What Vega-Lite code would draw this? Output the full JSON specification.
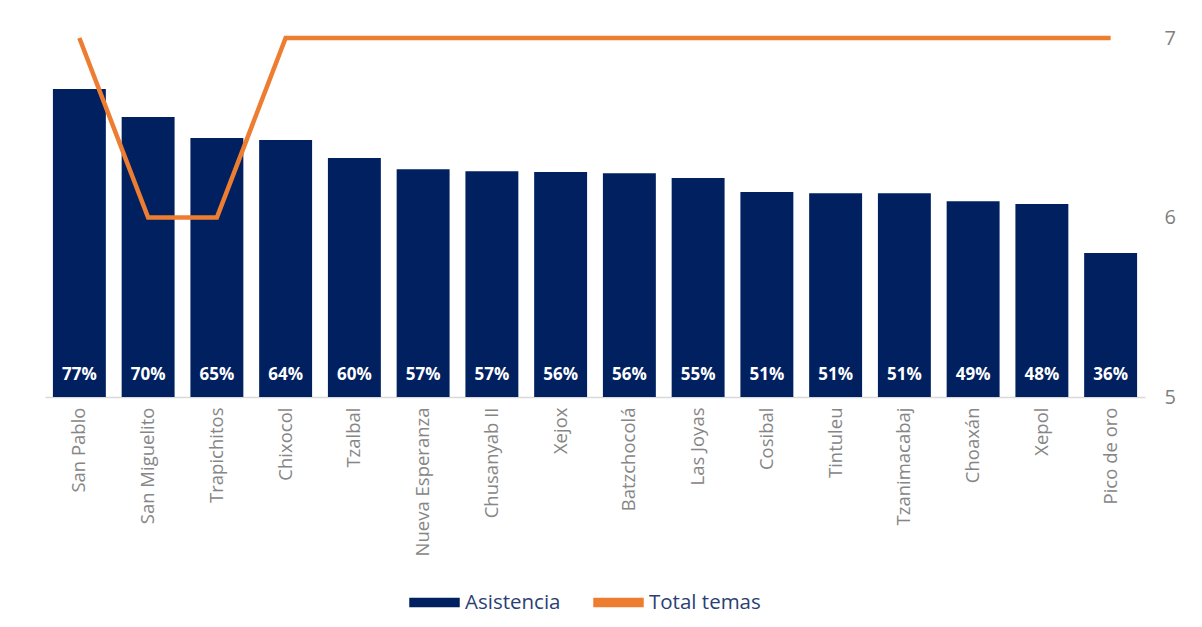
{
  "$schema": "https://vega.github.io/schema/vega-lite/v6.json",
  "width": 1100,
  "height": 359,
  "autosize": {"type": "none"},
  "padding": {"left": 45, "top": 38, "right": 57, "bottom": 230},
  "background": "white",
  "config": {"view": {"stroke": null}, "font": "Open Sans"},
  "data": {
    "values": [
      {"lugar": "San Pablo", "asistencia": 0.772, "temas": 7},
      {"lugar": "San Miguelito", "asistencia": 0.702, "temas": 6},
      {"lugar": "Trapichitos", "asistencia": 0.649, "temas": 6},
      {"lugar": "Chixocol", "asistencia": 0.644, "temas": 7},
      {"lugar": "Tzalbal", "asistencia": 0.599, "temas": 7},
      {"lugar": "Nueva Esperanza", "asistencia": 0.571, "temas": 7},
      {"lugar": "Chusanyab II", "asistencia": 0.566, "temas": 7},
      {"lugar": "Xejox", "asistencia": 0.564, "temas": 7},
      {"lugar": "Batzchocolá", "asistencia": 0.561, "temas": 7},
      {"lugar": "Las Joyas", "asistencia": 0.549, "temas": 7},
      {"lugar": "Cosibal", "asistencia": 0.514, "temas": 7},
      {"lugar": "Tintuleu", "asistencia": 0.511, "temas": 7},
      {"lugar": "Tzanimacabaj", "asistencia": 0.511, "temas": 7},
      {"lugar": "Choaxán", "asistencia": 0.491, "temas": 7},
      {"lugar": "Xepol", "asistencia": 0.484, "temas": 7},
      {"lugar": "Pico de oro", "asistencia": 0.361, "temas": 7}
    ]
  },
  "encoding": {
    "x": {
      "field": "lugar",
      "type": "nominal",
      "sort": null,
      "scale": {"paddingInner": 0.23, "paddingOuter": 0.115},
      "axis": {
        "title": null,
        "labelAngle": 270,
        "labelAlign": "right",
        "labelBaseline": "middle",
        "labelPadding": 10,
        "labelFontSize": 18.5,
        "labelColor": "#868686",
        "labelLimit": 0,
        "ticks": false,
        "domainColor": "#d9d9d9",
        "domainWidth": 1.5
      }
    }
  },
  "layer": [
    {
      "layer": [
        {
          "mark": {"type": "bar", "color": "#002060"},
          "encoding": {
            "y": {"field": "asistencia", "type": "quantitative", "scale": {"domain": [0, 0.9]}, "axis": null},
            "color": {
              "datum": "Asistencia",
              "scale": {"domain": ["Asistencia", "Total temas"], "range": ["#002060", "#ED7D31"]},
              "legend": {
                "title": null,
                "orient": "none",
                "legendX": 364,
                "legendY": 539,
                "direction": "horizontal",
                "symbolType": "M-1,-0.16L1,-0.16L1,0.16L-1,0.16Z",
                "symbolSize": 2400,
                "labelFontSize": 20.5,
                "labelColor": "#2b3f73",
                "labelOffset": 5,
                "columnPadding": 30,
                "encode": {
                  "symbols": {"update": {"fill": {"scale": "color", "field": "value"}, "stroke": {"value": "transparent"}, "opacity": {"value": 1}}}
                }
              }
            }
          }
        },
        {
          "mark": {"type": "text", "color": "white", "fontWeight": "bold", "fontSize": 17, "baseline": "alphabetic", "dy": -17},
          "encoding": {
            "y": {"datum": 0, "type": "quantitative"},
            "text": {"field": "asistencia", "type": "quantitative", "format": ".0%"}
          }
        }
      ]
    },
    {
      "mark": {"type": "line", "color": "#ED7D31", "strokeWidth": 4.5, "strokeJoin": "miter"},
      "encoding": {
        "y": {
          "field": "temas",
          "type": "quantitative",
          "scale": {"domain": [5, 7]},
          "axis": {
            "orient": "right",
            "title": null,
            "values": [5, 6, 7],
            "labelExpr": "format(datum.value, '.0f')",
            "labelOverlap": false,
            "grid": false,
            "domain": false,
            "ticks": false,
            "labelPadding": 19,
            "labelFontSize": 20,
            "labelColor": "#7f7f7f"
          }
        },
        "color": {"datum": "Total temas"}
      }
    }
  ],
  "resolve": {"scale": {"y": "independent"}}
}
